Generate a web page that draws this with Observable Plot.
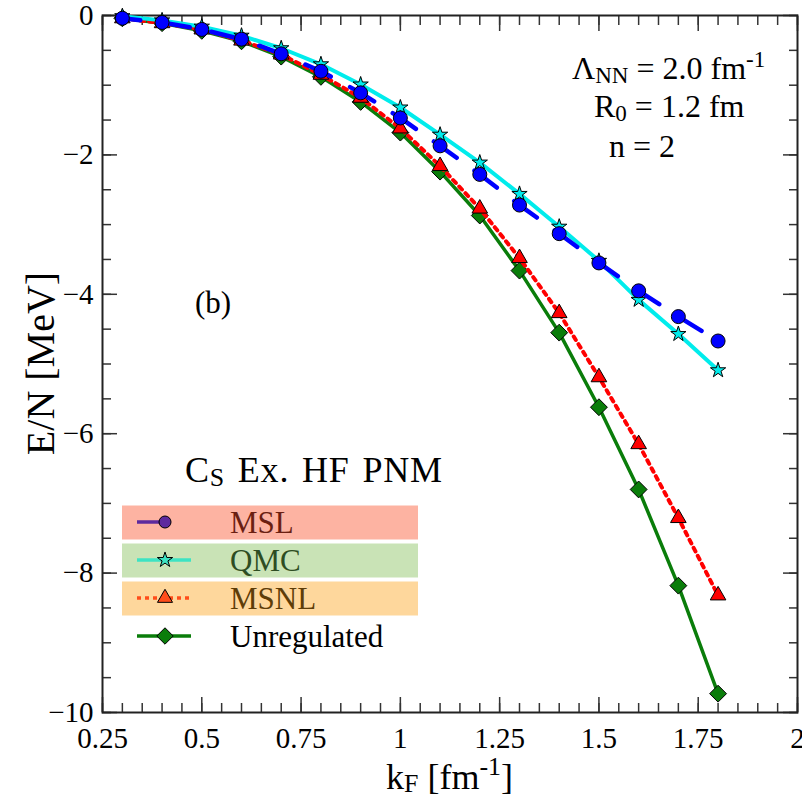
<!DOCTYPE html>
<html><head><meta charset="utf-8">
<script src="https://cdn.jsdelivr.net/npm/d3@7"></script>
<script src="https://cdn.jsdelivr.net/npm/@observablehq/plot@0.6"></script>
<style>html,body{margin:0;padding:0;background:#fff;} svg{display:block} svg text{font-family:'Liberation Serif','Times New Roman',serif;}</style>
</head><body><div id="chart"></div>
<script>
// ---- data ----
const kF = [0.3,0.4,0.5,0.6,0.7,0.8,0.9,1.0,1.1,1.2,1.3,1.4,1.5,1.6,1.7,1.8];
const msl   = [-0.04,-0.10,-0.20,-0.34,-0.55,-0.80,-1.11,-1.47,-1.87,-2.28,-2.72,-3.13,-3.55,-3.95,-4.32,-4.67];
const qmc   = [-0.01,-0.07,-0.16,-0.29,-0.47,-0.70,-0.99,-1.32,-1.71,-2.11,-2.56,-3.03,-3.52,-4.08,-4.57,-5.09];
const msnl  = [-0.04,-0.11,-0.20,-0.36,-0.56,-0.85,-1.18,-1.62,-2.16,-2.77,-3.48,-4.27,-5.19,-6.15,-7.21,-8.32];
const unreg = [-0.04,-0.11,-0.22,-0.37,-0.59,-0.88,-1.24,-1.68,-2.24,-2.87,-3.66,-4.55,-5.62,-6.80,-8.18,-9.73];
const seriesNames = ["MSL","QMC","MSNL","Unregulated"];
const xTicks = [0.25,0.5,0.75,1,1.25,1.5,1.75,2];
const xTickLabels = ["0.25","0.5","0.75","1","1.25","1.5","1.75","2"];
const yTicks = [0,-2,-4,-6,-8,-10];
const yTickLabels = ["0","\u22122","\u22124","\u22126","\u22128","\u221210"];
const xDomain = [0.25, 2];
const yDomain = [-10, 0];

// ---- layout / style ----
const W = 802, H = 801, ML = 102, MR = 5, MT = 15, MB = 89;
const FONT = "'Liberation Serif','Times New Roman',serif";
const C = {
  msl: "#0000ff", qmc: "#00ecec", msnl: "#ff0000", unreg: "#0a7d0a"
};
const rows = vals => kF.map((x, i) => ({x, y: vals[i]}));
const minorX = d3.range(5, 41).map(i => +(i * 0.05).toFixed(2));
const minorY = d3.range(-20, 1).map(i => i * 0.5);
const tk = {stroke: "#333", strokeWidth: 1.5, label: null};
const blank = () => "";

const plot = Plot.plot({
  width: W, height: H,
  marginLeft: ML, marginRight: MR, marginTop: MT, marginBottom: MB,
  x: {domain: xDomain},
  y: {domain: yDomain},
  style: {fontFamily: FONT, fontSize: "29px", color: "#000", background: "#fff", overflow: "visible"},
  marks: [
    Plot.axisX({anchor: "bottom", ticks: minorX, tickSize: -9, tickFormat: blank, ...tk}),
    Plot.axisX({anchor: "top", ticks: minorX, tickSize: -9, tickFormat: blank, ...tk}),
    Plot.axisX({anchor: "bottom", ticks: xTicks, tickSize: -15, tickPadding: 30,
      tickFormat: d => xTickLabels[xTicks.indexOf(d)], fontSize: 29, ...tk}),
    Plot.axisX({anchor: "top", ticks: xTicks, tickSize: -15, tickFormat: blank, ...tk}),
    Plot.axisY({anchor: "left", ticks: minorY, tickSize: -9, tickFormat: blank, ...tk}),
    Plot.axisY({anchor: "right", ticks: minorY, tickSize: -9, tickFormat: blank, ...tk}),
    Plot.axisY({anchor: "left", ticks: yTicks, tickSize: -15, tickPadding: 24,
      tickFormat: d => yTickLabels[yTicks.indexOf(d)], fontSize: 29, ...tk}),
    Plot.axisY({anchor: "right", ticks: yTicks, tickSize: -15, tickFormat: blank, ...tk}),
    Plot.frame({stroke: "#222", strokeWidth: 2}),

    Plot.line(rows(unreg), {x: "x", y: "y", stroke: C.unreg, strokeWidth: 3.5}),
    Plot.dot(rows(unreg), {x: "x", y: "y", symbol: "diamond2", r: 7.6, fill: C.unreg, stroke: "#000", strokeWidth: 1}),
    Plot.line(rows(msnl), {x: "x", y: "y", stroke: C.msnl, strokeWidth: 4, strokeDasharray: "4,5"}),
    Plot.dot(rows(msnl), {x: "x", y: "y", symbol: "triangle", r: 5.8, fill: C.msnl, stroke: "#000", strokeWidth: 1}),
    Plot.line(rows(qmc), {x: "x", y: "y", stroke: C.qmc, strokeWidth: 4}),
    Plot.dot(rows(qmc), {x: "x", y: "y", symbol: "star", r: 4.8, fill: C.qmc, stroke: "#000", strokeWidth: 1}),
    Plot.line(rows(msl), {x: "x", y: "y", stroke: C.msl, strokeWidth: 4.5, strokeDasharray: "28,22", strokeDashoffset: 10}),
    Plot.dot(rows(msl), {x: "x", y: "y", symbol: "circle", r: 7, fill: C.msl, stroke: "#000", strokeWidth: 1})
  ]
});
document.getElementById("chart").appendChild(plot);

// ---- rich text annotations ----
const svg = d3.select(plot);
const g = svg.append("g").attr("font-family", FONT)
  .attr("fill", "#000").attr("text-anchor", "start");

function rich(parent, x, y, size, parts, attrs = {}, subShift = 0.22) {
  const t = parent.append("text").attr("x", x).attr("y", y).attr("font-size", size)
    .attr("text-anchor", "start");
  for (const k in attrs) t.attr(k, attrs[k]);
  let shift = 0;
  for (const p of parts) {
    const s = typeof p === "string" ? {text: p} : p;
    const ts = t.append("tspan").text(s.text);
    let target = 0, fs = size;
    if (s.sub) { target = size * subShift; fs = size * 0.72; }
    if (s.sup) { target = -size * 0.38; fs = size * 0.72; }
    ts.attr("font-size", fs);
    if (target !== shift) { ts.attr("dy", target - shift); shift = target; }
  }
  return t;
}

// axis titles
rich(g, (ML + W - MR) / 2, 789, 36, ["k", {text: "F", sub: true}, " [fm", {text: "-1", sup: true}, "]"], {"text-anchor": "middle"}, 0.08);
g.append("text").attr("transform", `translate(54,${(MT + H - MB) / 2}) rotate(-90)`)
  .attr("text-anchor", "middle").attr("font-size", 40).text("E/N [MeV]");

// parameter box
rich(g, 572, 79, 32, ["\u039b", {text: "NN", sub: true}, " = 2.0 fm", {text: "-1", sup: true}], {}, 0.12);
rich(g, 594, 117, 32, ["R", {text: "0", sub: true}, " = 1.2 fm"], {}, 0.12);
rich(g, 609, 157, 32, ["n = 2"]);

// panel label
rich(g, 195, 313, 31, ["(b)"]);

// legend
rich(g, 185, 482, 36, ["C", {text: "S", sub: true}, " Ex. HF PNM"], {"letter-spacing": "0.8px", "word-spacing": "3px"}, 0.12);
const legend = [
  {name: seriesNames[0], cy: 522, bg: "#fdb3a2", tc: "#6b1f12", lc: "#5d2a9e", sym: d3.symbolCircle, r: 6, dash: null, lineTo: 162},
  {name: seriesNames[1], cy: 560, bg: "#c9e3b6", tc: "#2e4d22", lc: "#3de3c3", sym: d3.symbolStar, r: 4.8, dash: null, lineTo: 191},
  {name: seriesNames[2], cy: 598, bg: "#fed79c", tc: "#5e3d08", lc: "#ff4d1a", sym: d3.symbolTriangle, r: 5.6, dash: "4,4", lineTo: 191},
  {name: seriesNames[3], cy: 636, bg: null, tc: "#000", lc: "#0a7d0a", sym: d3.symbolDiamond2, r: 7.4, dash: null, lineTo: 191}
];
for (const L of legend) {
  if (L.bg) g.append("rect").attr("x", 122).attr("y", L.cy - 16.5).attr("width", 296).attr("height", 34).attr("fill", L.bg);
  g.append("line").attr("x1", 137).attr("x2", L.lineTo).attr("y1", L.cy).attr("y2", L.cy)
    .attr("stroke", L.lc).attr("stroke-width", 3.5).attr("stroke-dasharray", L.dash);
  g.append("path").attr("transform", `translate(165,${L.cy})`)
    .attr("d", d3.symbol(L.sym, Math.PI * L.r * L.r)())
    .attr("fill", L.lc).attr("stroke", "#000").attr("stroke-width", 1);
  g.append("text").attr("x", 230).attr("y", L.cy + 11).attr("font-size", 31).attr("fill", L.tc)
    .attr("text-anchor", "start").text(L.name);
}
</script>
</body></html>
